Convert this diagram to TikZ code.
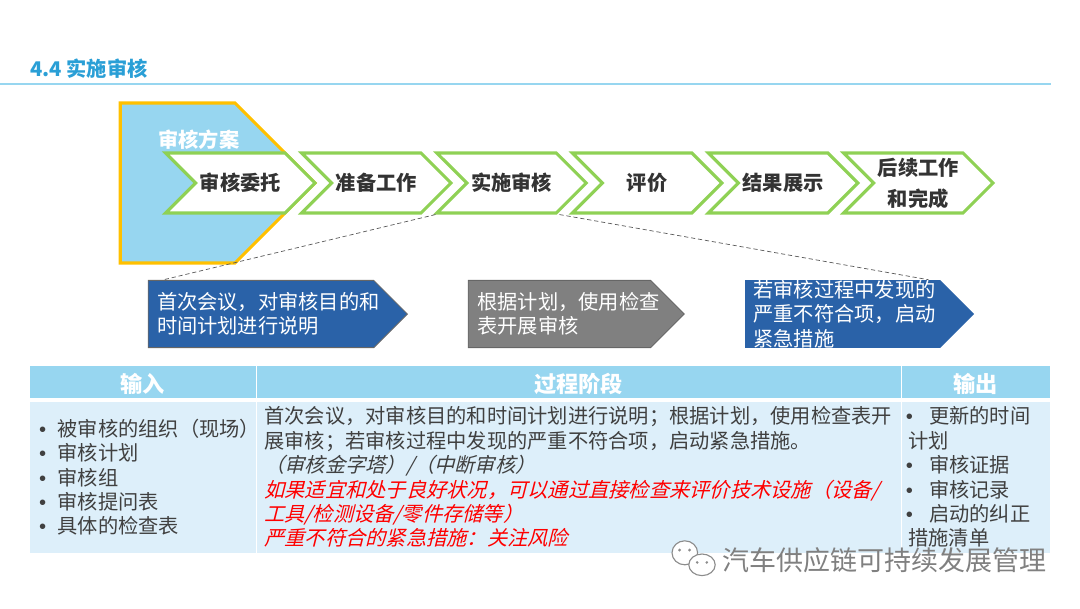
\documentclass[tikz,border=0pt]{standalone}
\usepackage{fontspec}
\setmainfont[ItalicFont={Noto Sans CJK SC},ItalicFeatures={FakeSlant=0.25}]{Noto Sans CJK SC}
\newfontfamily\bulletfont{Liberation Sans}
\usepackage{xcolor}
\usetikzlibrary{shapes.symbols, positioning, calc}
\definecolor{skyblue}{HTML}{97D6F0}
\definecolor{paleblue}{HTML}{DDEFFA}
\definecolor{stepgreen}{HTML}{8FD155}
\definecolor{navyblock}{HTML}{2A62A8}
\definecolor{titleblue}{HTML}{2A9FD6}
\definecolor{bodygray}{HTML}{404040}
\definecolor{amber}{HTML}{FFC000}
\newcommand{\itm}[2][.4cm]{\makebox[#1][l]{\hspace{-.06cm}{\bulletfont •}}#2}
\tikzstyle{flowstep} = [signal, signal to=east, signal from=west, signal pointer angle=90, draw=stepgreen, line width=2.2pt, fill=white, minimum width=3.735cm, minimum height=1.5cm, inner sep=0pt, align=center, text=black!80, font=\fontsize{14.4}{22}\selectfont\bfseries]
\tikzstyle{tag} = [signal, signal to=east, signal pointer angle=90, draw=black!60, line width=.6pt, minimum height=1.68cm, inner sep=0pt, text=white, align=left, font=\fontsize{14.4}{17.4}\selectfont]
\tikzstyle{headcell} = [rectangle, draw=white, line width=.5pt, outer sep=0pt, fill=skyblue, minimum height=.83cm, inner sep=0pt, text height=.65cm, text depth=.1cm, text=white, font=\fontsize{15.8}{18}\selectfont\bfseries]
\tikzstyle{bodycell} = [rectangle, draw=white, line width=.5pt, outer sep=0pt, fill=paleblue, minimum height=3.79cm, inner ysep=0pt, text=bodygray, align=left, font=\fontsize{14.4}{17.35}\selectfont]
\tikzstyle{guide} = [densely dashed, black!65, line width=.5pt]
\begin{document}
\begin{tikzpicture}
  \useasboundingbox (0,0) rectangle (27,-15.2);
  \node[anchor=west, text=titleblue, font=\fontsize{14.4}{18}\selectfont\bfseries] (title) at (.63,-1.72) {4.4 实施审核};
  \coordinate (ruleend) at (26.28,-2.1);
  \coordinate (rulestart) at (0,-2.1);
  \draw[skyblue, line width=1pt] (rulestart) -- (ruleend);

  % Audit programme
  \node[signal, signal to=east, signal pointer angle=90, draw=amber, line width=2.2pt, fill=skyblue, minimum width=4.87cm, minimum height=4cm, inner sep=0pt, anchor=east] (programme) at (7.93,-4.575) {};
  \node[text=white, font=\fontsize{14.4}{18}\selectfont\bfseries] (programmetext) at (4.97,-3.48) {审核方案};

  % Steps
  \node[flowstep, anchor=east] (commission) at (7.93,-4.575) {审核委托};
  \node[flowstep, anchor=east] (prepare) at (11.33,-4.575) {准备工作};
  \node[flowstep, anchor=east] (conduct) at (14.71,-4.575) {实施审核};
  \node[flowstep, anchor=east] (evaluate) at (18.1,-4.575) {评价};
  \node[flowstep, anchor=east] (present) at (21.5,-4.575) {结果展示};
  \node[flowstep, anchor=east] (followup) at (24.88,-4.575) {后续工作\\和完成};

  % Activities
  \node[tag, fill=navyblock, anchor=east, minimum width=6.48cm, text width=5.2cm] (meeting) at (10.2,-7.85) {首次会议，对审核目的和\\时间计划进行说明};
  \node[tag, fill=black!50, anchor=east, minimum width=5.4cm, text width=4.1cm] (checklist) at (17.12,-7.85) {根据计划，使用检查\\表开展审核};
  \node[tag, fill=navyblock, draw=none, anchor=east, minimum width=5.73cm, text width=4.47cm] (urgent) at (24.37,-7.85) {若审核过程中发现的\\严重不符合项，启动\\紧急措施};

  % Zoom lines
  \coordinate (leftfoot) at ([xshift=.37cm]meeting.north west);
  \coordinate (rightfoot) at ([xshift=4.6cm]urgent.north west);
  \draw[guide] ([xshift=-1.9cm]conduct.south) -- (leftfoot);
  \draw[guide] ([xshift=1.2cm]conduct.south) -- (rightfoot);

  % Table
  \node[headcell, minimum width=5.66cm, anchor=north west] (inhead) at (.74,-9.125) {输入};
  \node[headcell, minimum width=16.125cm, right=0cm of inhead] (stagehead) {过程阶段};
  \node[headcell, minimum width=3.725cm, right=0cm of stagehead] (outhead) {输出};

  \node[bodycell, minimum width=5.66cm, text width=5.06cm, below=.08cm of inhead] (incell) {\itm{被审核的组织（现场）}\\\itm{审核计划}\\\itm{审核组}\\\itm{审核提问表}\\\itm{具体的检查表}};
  \node[bodycell, minimum width=16.125cm, text width=15.7cm, below=.08cm of stagehead] (stagecell) {首次会议，对审核目的和时间计划进行说明；根据计划，使用检查表开\\展审核；若审核过程中发现的严重不符合项，启动紧急措施。\\\textit{（审核金字塔）/（中断审核）}\\\textcolor{red}{\textit{如果适宜和处于良好状况，可以通过直接检查来评价技术设施（设备/}}\\\textcolor{red}{\textit{工具/检测设备/零件存储等）}}\\\textcolor{red}{\textit{严重不符合的紧急措施：关注风险}}};
  \node[bodycell, minimum width=3.725cm, text width=3.36cm, below=.08cm of outhead] (outcell) {\itm[.52cm]{更新的时间}\\计划\\\itm[.52cm]{审核证据}\\\itm[.52cm]{审核记录}\\\itm[.52cm]{启动的纠正}\\措施清单};

  % Watermark
  \draw[black!45, fill=white, line width=.8pt] (17.12,-13.82) ellipse (.32cm and .3cm);
  \draw[black!45, fill=white, line width=.8pt] (17.55,-14.12) ellipse (.33cm and .27cm);
  \fill[black!45] (16.99,-13.75) circle (.04cm) (17.24,-13.75) circle (.04cm) (17.43,-14.06) circle (.035cm) (17.67,-14.06) circle (.035cm);
  \node[anchor=west, inner sep=0pt, text=black!50, font=\fontsize{19.2}{22}\selectfont] (mark) at (18.05,-14) {汽车供应链可持续发展管理};
\end{tikzpicture}
\end{document}
